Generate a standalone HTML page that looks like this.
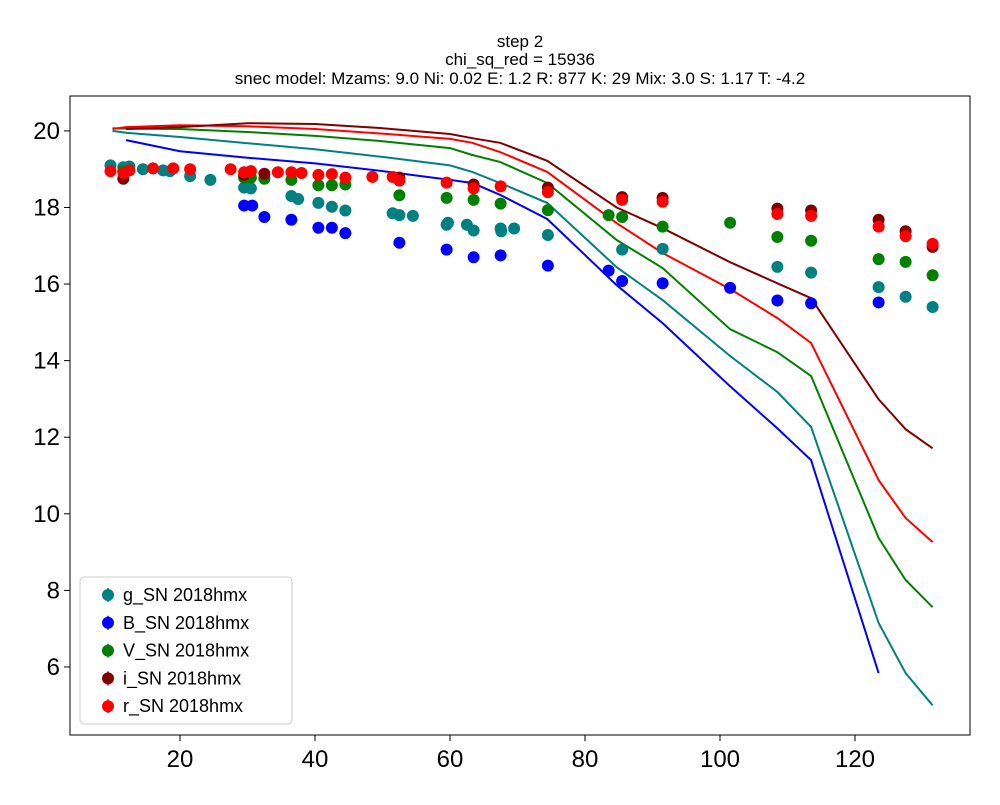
<!DOCTYPE html>
<html><head><meta charset="utf-8"><style>
body{margin:0;background:#fff;font-family:"Liberation Sans",Arial,sans-serif}
</style></head><body>
<svg id="chart" width="1000" height="800" xmlns="http://www.w3.org/2000/svg" font-family="Liberation Sans, Arial, sans-serif">
<g id="title" font-size="17" text-anchor="middle" fill="#000">
<text x="520" y="47">step 2</text>
<text x="520" y="65">chi_sq_red = 15936</text>
<text x="520" y="84">snec model: Mzams: 9.0 Ni: 0.02 E: 1.2 R: 877 K: 29 Mix: 3.0 S: 1.17 T: -4.2</text>
</g>
<g id="plot"></g>
<rect x="70" y="96" width="900" height="639" fill="none" stroke="#000" stroke-width="1"/>
<g id="axes"></g>
<g id="legend"></g>
</svg>
<script>
const xTicks=[20,40,60,80,100,120];
const yTicks=[6,8,10,12,14,16,18,20];
const modelX=[10,12,20,30,40,50,60,63.3,67.4,74.4,84.7,91.5,101.5,108.5,113.5,123.5,127.5,131.5];
const modelB=[null,19.76,19.47,19.3,19.15,18.95,18.72,18.64,18.33,17.70,15.97,14.98,13.33,12.23,11.4,5.84,null,null];
const modelG=[20.0,19.95,19.84,19.68,19.52,19.32,19.1,18.93,18.64,18.12,16.44,15.58,14.12,13.18,12.27,7.15,5.84,5.0];
const modelV=[20.07,20.06,20.05,19.97,19.87,19.73,19.55,19.37,19.19,18.64,17.15,16.42,14.82,14.22,13.6,9.37,8.27,7.56];
const modelR=[20.05,20.1,20.15,20.12,20.05,19.93,19.79,19.69,19.45,18.93,17.59,16.81,15.87,15.11,14.46,10.88,9.89,9.26];
const modelI=[null,20.05,20.1,20.2,20.18,20.07,19.92,19.81,19.69,19.22,18.0,17.46,16.57,16.02,15.63,12.99,12.21,11.71];
const gX=[9.7,11.6,12.5,14.5,17.5,18.5,21.5,24.5,29.5,30.5,36.5,37.5,40.5,42.5,44.5,51.5,52.5,54.5,59.5,59.7,62.5,63.5,67.5,67.6,69.5,74.5,85.5,91.5,108.5,113.5,123.5,127.5,131.5];
const gY=[19.1,19.05,19.07,19.0,18.97,18.95,18.82,18.72,18.52,18.5,18.3,18.22,18.12,18.02,17.92,17.85,17.8,17.78,17.55,17.6,17.55,17.4,17.45,17.38,17.45,17.28,16.9,16.92,16.45,16.3,15.92,15.67,15.4];
const bX=[29.5,30.7,32.5,36.5,40.5,42.5,44.5,52.5,59.5,63.5,67.5,74.5,83.5,85.5,91.5,101.5,108.5,113.5,123.5];
const bY=[18.05,18.05,17.75,17.68,17.47,17.47,17.33,17.08,16.9,16.7,16.75,16.48,16.35,16.08,16.02,15.9,15.57,15.5,15.52];
const vX=[11.6,29.5,30.5,32.5,36.5,40.5,42.5,44.5,52.5,59.5,63.5,67.5,74.5,83.5,85.5,91.5,101.5,108.5,113.5,123.5,127.5,131.5];
const vY=[18.95,18.78,18.78,18.75,18.72,18.58,18.58,18.6,18.32,18.25,18.2,18.1,17.93,17.8,17.75,17.5,17.6,17.23,17.13,16.65,16.58,16.23];
const iX=[11.6,29.5,32.5,52.5,63.5,74.5,85.5,91.5,108.5,113.5,123.5,127.5,131.5];
const iY=[18.75,18.85,18.88,18.78,18.6,18.52,18.27,18.25,17.97,17.92,17.68,17.38,16.97];
const rX=[9.7,11.6,12.5,16,19,21.5,27.5,29.5,30.5,34.5,36.5,38,40.5,42.5,44.5,48.5,51.5,52.5,59.5,63.5,67.5,74.5,85.5,91.5,108.5,113.5,123.5,127.5,131.5];
const rY=[18.95,18.9,18.97,19.02,19.02,19.0,19.0,18.92,18.95,18.92,18.92,18.9,18.85,18.87,18.78,18.8,18.8,18.7,18.65,18.5,18.55,18.4,18.2,18.15,17.83,17.78,17.5,17.25,17.05];

const NS='http://www.w3.org/2000/svg';
function sx(v){return 45+v*6.75;}
function sy(v){return 896.7-v*38.29;}
function mk(tag,attrs,parent){const e=document.createElementNS(NS,tag);for(const k in attrs)e.setAttribute(k,attrs[k]);parent.appendChild(e);return e;}
const plot=document.getElementById('plot'),axes=document.getElementById('axes'),legend=document.getElementById('legend');
const colors={g:'#008080',B:'#0000ff',V:'#008000',i:'#800000',r:'#ff0000'};
function line(ys,c,name){let d='';modelX.forEach((x,k)=>{if(ys[k]==null)return;d+=(d?'L':'M')+sx(x).toFixed(1)+','+sy(ys[k]).toFixed(1);});
const p=mk('path',{d:d,fill:'none',stroke:c,'stroke-width':2},plot);

}
line(modelB,colors.B,'model-line-B');line(modelG,colors.g,'model-line-g');line(modelV,colors.V,'model-line-V');line(modelR,colors.r,'model-line-r');line(modelI,colors.i,'model-line-i');
function pts(xs,ys,c,name){xs.forEach((x,k)=>{const e=mk('circle',{cx:sx(x),cy:sy(ys[k]),r:6,fill:c},plot);

});}
pts(gX,gY,colors.g,'point-g');pts(bX,bY,colors.B,'point-B');pts(vX,vY,colors.V,'point-V');pts(iX,iY,colors.i,'point-i');pts(rX,rY,colors.r,'point-r');
xTicks.forEach(t=>{mk('line',{x1:sx(t),x2:sx(t),y1:735,y2:741,stroke:'#000'},axes);
const tx=mk('text',{x:sx(t),y:767,'font-size':24,'text-anchor':'middle'},axes);tx.textContent=t;

});
yTicks.forEach(t=>{mk('line',{x1:64,x2:70,y1:sy(t),y2:sy(t),stroke:'#000'},axes);
const tx=mk('text',{x:60,y:sy(t)+8,'font-size':24,'text-anchor':'end'},axes);tx.textContent=t;

});
const lb=mk('rect',{x:80,y:577,width:212,height:147,rx:4,fill:'#fff','fill-opacity':0.8,stroke:'#ccc'},legend);


const labels=[['g_SN 2018hmx',colors.g],['B_SN 2018hmx',colors.B],['V_SN 2018hmx',colors.V],['i_SN 2018hmx',colors.i],['r_SN 2018hmx',colors.r]];
labels.forEach((l,k)=>{const y=595+k*27.8;
const g=mk('g',{},legend);


mk('line',{x1:108,x2:108,y1:y-7,y2:y+7,stroke:l[1],'stroke-width':1.5},g);
mk('circle',{cx:108,cy:y,r:6,fill:l[1]},g);
const t=mk('text',{x:123,y:y+6,'font-size':18},g);t.textContent=l[0];});
</script>
</body></html>
